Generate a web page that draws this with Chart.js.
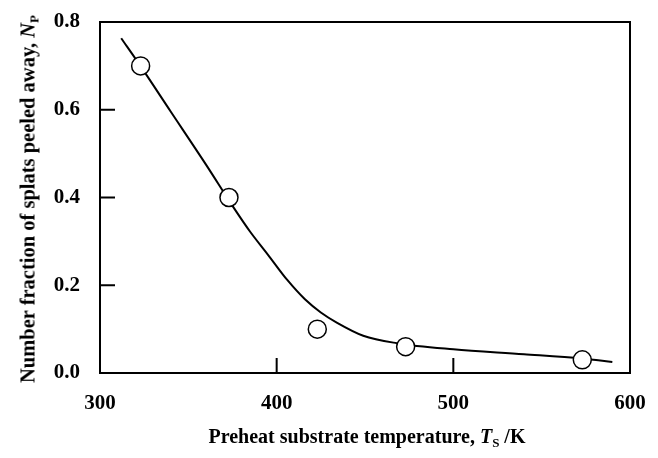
<!DOCTYPE html>
<html>
<head>
<meta charset="utf-8">
<script src="https://cdn.jsdelivr.net/npm/chart.js@4/dist/chart.umd.min.js"></script>
<style>
  body { margin: 0; background: #fff; }
  #wrap { position: relative; width: 658px; height: 458px; }
  .axis-title {
    position: absolute;
    white-space: nowrap;
    font: bold 20px 'Liberation Serif', 'Times New Roman', serif;
    color: #000;
    transform: translate(-50%, -50%);
  }
  #ytitle { left: 28px; top: 199px; font-size: 20.5px; transform: translate(-50%, -50%) rotate(-90deg); }
  #xtitle { left: 367px; top: 436px; }
  .axis-title sub { font-size: 13px; vertical-align: -4px; line-height: 0; }
</style>
</head>
<body>
<div id="wrap">
  <canvas id="chart" width="658" height="458"></canvas>
  <div class="axis-title" id="ytitle">Number fraction of splats peeled away, <i>N</i><sub>P</sub></div>
  <div class="axis-title" id="xtitle">Preheat substrate temperature, <i>T</i><sub>S</sub> /K</div>
</div>
<script>
// measured points (open circles)
const tempK = [323, 373, 423, 473, 573];
const fraction = [0.70, 0.40, 0.10, 0.06, 0.03];

// hand-drawn trend curve
const curveT = [312, 322, 340, 360, 375, 385, 395, 406, 416, 425, 434, 449, 468, 500, 540, 573, 590];
const curveN = [0.763, 0.705, 0.596, 0.475, 0.381, 0.322, 0.270, 0.212, 0.168, 0.138, 0.115, 0.085, 0.068, 0.054, 0.043, 0.033, 0.025];

const xTicks = [300, 400, 500, 600];
const yTicks = [0.0, 0.2, 0.4, 0.6, 0.8];

const tickFont = { family: "'Liberation Serif', 'Times New Roman', serif", size: 21, weight: 'bold' };

// frame + inward ticks, positioned by the chart's own scales
const framePlugin = {
  id: 'frame',
  afterDatasetsDraw(chart) {
    const { ctx, chartArea: a, scales } = chart;
    ctx.save();
    ctx.strokeStyle = '#000';
    ctx.lineWidth = 2;
    ctx.strokeRect(a.left, a.top, a.right - a.left, a.bottom - a.top);
    ctx.beginPath();
    scales.y.ticks.forEach(t => {
      const y = scales.y.getPixelForValue(t.value);
      ctx.moveTo(a.left, y);
      ctx.lineTo(a.left + 15, y);
    });
    scales.x.ticks.forEach(t => {
      const x = scales.x.getPixelForValue(t.value);
      ctx.moveTo(x, a.bottom);
      ctx.lineTo(x, a.bottom - 15);
    });
    ctx.stroke();
    ctx.restore();
  }
};

new Chart(document.getElementById('chart'), {
  data: {
    datasets: [
      {
        type: 'scatter',
        data: tempK.map((t, i) => ({ x: t, y: fraction[i] })),
        pointRadius: 9,
        pointBackgroundColor: '#fff',
        pointBorderColor: '#000',
        pointBorderWidth: 1.5,
        order: 0
      },
      {
        type: 'line',
        data: curveT.map((t, i) => ({ x: t, y: curveN[i] })),
        borderColor: '#000',
        borderWidth: 2,
        pointRadius: 0,
        cubicInterpolationMode: 'monotone',
        fill: false,
        order: 1
      }
    ]
  },
  options: {
    responsive: false,
    animation: false,
    layout: { padding: { left: 0, right: 28, top: 22, bottom: 0 } },
    plugins: { legend: { display: false }, tooltip: { enabled: false } },
    scales: {
      x: {
        type: 'linear',
        min: 300,
        max: 600,
        afterBuildTicks: s => { s.ticks = xTicks.map(v => ({ value: v })); },
        afterFit: s => { s.height = 85; s.paddingLeft = 0; s.paddingRight = 0; },
        grid: { display: false },
        border: { display: false },
        ticks: { color: '#000', font: tickFont, padding: 10 }
      },
      y: {
        min: 0,
        max: 0.8,
        afterBuildTicks: s => { s.ticks = yTicks.map(v => ({ value: v })); },
        afterFit: s => { s.width = 100; s.paddingTop = 0; s.paddingBottom = 0; },
        grid: { display: false },
        border: { display: false },
        ticks: { color: '#000', font: tickFont, padding: 12, callback: v => v.toFixed(1) }
      }
    }
  },
  plugins: [framePlugin]
});
</script>
</body>
</html>
